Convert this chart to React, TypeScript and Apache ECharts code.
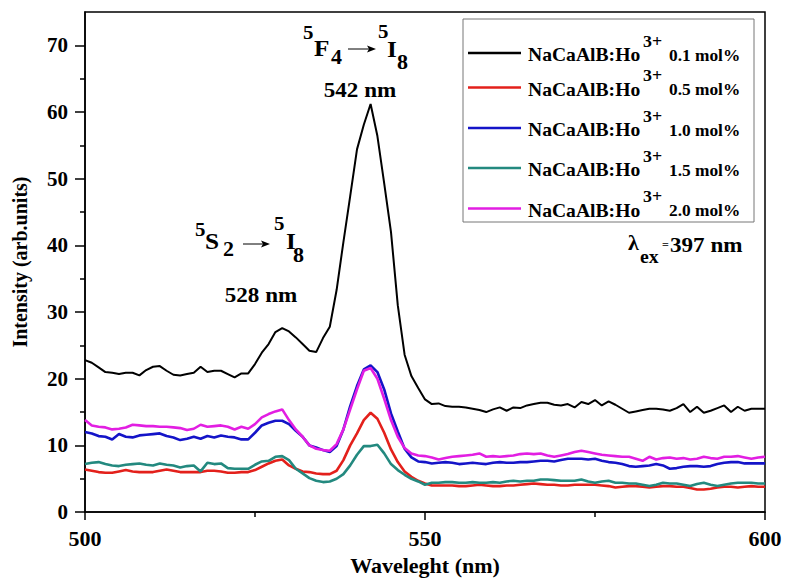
import React, { useEffect, useRef } from "react";
import * as echarts from "echarts";

// ---------- data ----------
const wavelengths: number[] = Array.from({ length: 101 }, (_, i) => 500 + i);

const conc01 = [
  22.8, 22.4, 21.7, 21.0, 20.9, 20.7, 20.9, 20.9, 20.5, 21.3,
  21.8, 21.9, 21.2, 20.6, 20.5, 20.7, 20.9, 21.8, 21.0, 21.2,
  21.2, 20.7, 20.2, 20.8, 20.8, 22.2, 23.9, 25.2, 27.0, 27.6,
  27.1, 26.2, 25.2, 24.2, 24.0, 26.1, 27.8, 33.3, 40.5, 47.4,
  54.4, 58.1, 61.2, 56.4, 49.3, 42.0, 31.0, 23.6, 20.4, 18.6,
  16.9, 16.2, 16.3, 15.9, 15.8, 15.8, 15.7, 15.5, 15.3, 15.0,
  15.4, 15.7, 15.2, 15.7, 15.6, 16.0, 16.2, 16.4, 16.4, 16.1,
  16.0, 16.2, 15.7, 16.5, 16.2, 16.8, 16.0, 16.6, 16.1, 15.5,
  14.9, 15.1, 15.3, 15.5, 15.5, 15.4, 15.2, 15.6, 16.2, 15.0,
  15.8, 14.9, 15.2, 15.6, 16.0, 15.0, 15.8, 15.2, 15.5, 15.5,
  15.5,
];

const conc05 = [
  6.4, 6.2, 6.0, 5.9, 5.9, 6.1, 6.3, 6.1, 6.0, 6.0,
  6.0, 6.2, 6.4, 6.2, 6.0, 6.0, 6.0, 6.0, 6.2, 6.2,
  6.1, 5.9, 5.9, 6.0, 6.0, 6.3, 6.8, 7.3, 7.7, 7.9,
  7.0, 6.5, 6.1, 6.0, 5.8, 5.7, 5.7, 6.2, 7.8, 10.0,
  11.8, 13.8, 14.9, 14.0, 11.9, 9.4, 7.5, 6.1, 5.3, 4.7,
  4.3, 4.0, 4.0, 4.0, 4.0, 3.9, 3.9, 4.0, 4.1, 4.0,
  3.9, 3.9, 4.0, 4.0, 4.1, 4.2, 4.3, 4.2, 4.1, 4.1,
  4.0, 4.0, 4.1, 4.1, 4.1, 4.1, 4.0, 3.9, 3.7, 3.8,
  3.9, 3.9, 3.8, 3.7, 3.8, 3.9, 3.9, 3.8, 3.8, 3.6,
  3.4, 3.4, 3.5, 3.7, 3.8, 3.8, 3.7, 3.8, 3.9, 3.8,
  3.8,
];

const conc10 = [
  12.0, 11.8, 11.4, 11.3, 10.9, 11.7, 11.3, 11.2, 11.5, 11.6,
  11.7, 11.8, 11.4, 11.2, 10.8, 11.0, 11.3, 11.0, 11.4, 11.2,
  11.5, 11.3, 11.2, 10.9, 10.9, 11.9, 13.0, 13.4, 13.7, 13.7,
  13.2, 12.2, 11.3, 10.0, 9.7, 9.3, 9.0, 9.9, 12.4, 15.9,
  18.9, 21.4, 22.0, 21.0, 18.4, 14.8, 12.1, 9.5, 8.2, 7.6,
  7.5, 7.3, 7.4, 7.5, 7.4, 7.2, 7.3, 7.4, 7.3, 7.2,
  7.4, 7.5, 7.4, 7.4, 7.5, 7.5, 7.6, 7.7, 7.7, 7.6,
  7.8, 8.0, 8.0, 8.0, 7.9, 8.0, 7.7, 7.5, 7.4, 7.2,
  6.9, 6.8, 6.9, 7.0, 7.2, 7.0, 6.5, 6.6, 6.8, 6.9,
  6.9, 6.8, 6.9, 7.2, 7.4, 7.5, 7.5, 7.3, 7.3, 7.3,
  7.3,
];

const conc15 = [
  7.2, 7.4, 7.5, 7.2, 7.0, 6.9, 7.1, 7.2, 7.3, 7.1,
  7.0, 7.3, 7.1, 7.0, 6.7, 6.9, 7.0, 6.1, 7.4, 7.2,
  7.3, 6.6, 6.5, 6.5, 6.5, 7.1, 7.6, 7.7, 8.3, 8.4,
  7.8, 6.5, 5.8, 5.1, 4.7, 4.5, 4.6, 5.0, 5.7, 7.0,
  8.6, 9.9, 9.9, 10.1, 8.8, 7.2, 6.3, 5.6, 5.0, 4.6,
  4.1, 4.4, 4.4, 4.5, 4.5, 4.4, 4.4, 4.5, 4.4, 4.4,
  4.5, 4.4, 4.6, 4.7, 4.6, 4.7, 4.7, 4.9, 4.9, 4.8,
  4.7, 4.7, 4.7, 4.9, 4.6, 4.4, 4.6, 4.7, 4.4, 4.4,
  4.3, 4.3, 4.1, 3.9, 4.1, 4.4, 4.3, 4.3, 4.1, 3.9,
  4.2, 4.4, 4.1, 3.9, 4.1, 4.3, 4.4, 4.4, 4.4, 4.3,
  4.3,
];

const conc20 = [
  13.8, 13.0, 12.8, 12.7, 12.4, 12.5, 12.7, 13.1, 13.0, 12.9,
  12.9, 12.8, 12.8, 12.7, 12.6, 12.3, 12.5, 13.1, 12.8, 12.9,
  13.0, 12.8, 12.4, 12.8, 12.5, 13.2, 14.2, 14.7, 15.1, 15.4,
  13.8, 12.4, 11.3, 10.0, 9.5, 9.3, 9.2, 10.2, 12.4, 15.4,
  18.4, 21.2, 21.6, 20.0, 17.0, 13.8, 11.3, 9.6, 8.8, 8.5,
  8.4, 8.2, 7.9, 8.1, 8.3, 8.4, 8.5, 8.6, 8.8, 8.3,
  8.4, 8.3, 8.4, 8.5, 8.7, 8.8, 8.7, 8.8, 8.5, 8.3,
  8.5, 8.7, 9.0, 9.2, 9.0, 8.8, 8.6, 8.5, 8.4, 8.3,
  8.3, 8.0, 7.7, 8.3, 7.9, 8.1, 8.2, 8.0, 8.1, 7.9,
  8.0, 8.3, 8.1, 8.0, 8.3, 8.3, 8.4, 8.2, 8.0, 8.2,
  8.3,
];

const concentrations = ["0.1", "0.5", "1.0", "1.5", "2.0"];
const seriesValues = [conc01, conc05, conc10, conc15, conc20];
const seriesColors = ["#000000", "#e3201b", "#1414c8", "#23897f", "#e21ee2"];
const seriesWidths = [2, 2.6, 2.6, 2.6, 2.6];

const xTicks = [500, 550, 600];
const yTicks = [0, 10, 20, 30, 40, 50, 60, 70];
const yMinorTicks = [5, 15, 25, 35, 45, 55, 65];

// ---------- styling helpers ----------
const FONT = "'Liberation Serif', 'Times New Roman', serif";
const SX = 1.1;

function txt(text: string, x: number, y: number, size: number, align: string = "left", sx: number = SX) {
  return {
    type: "text",
    x,
    y,
    scaleX: sx,
    z: 100,
    style: {
      text,
      x: 0,
      y: 0,
      fontSize: size,
      fontWeight: "bold",
      fontFamily: FONT,
      fill: "#000",
      align,
      verticalAlign: "middle",
    },
  };
}

function arrow(x1: number, x2: number, y: number) {
  return [
    { type: "line", z: 100, shape: { x1, y1: y, x2: x2 - 6, y2: y }, style: { stroke: "#000", lineWidth: 1 } },
    {
      type: "polygon",
      z: 100,
      shape: { points: [[x2 - 9, y - 3.5], [x2, y], [x2 - 9, y + 3.5], [x2 - 7, y]] },
      style: { fill: "#000" },
    },
  ];
}

export default function App() {
  const ref = useRef<HTMLDivElement>(null);

  useEffect(() => {
    document.body.style.margin = "0";
    if (!ref.current) return;
    const chart = echarts.init(ref.current, undefined, { renderer: "svg" });

    const legendRows = [53, 87.5, 128, 168, 208.5];
    const legendGraphics: any[] = [
      {
        type: "rect",
        z: 90,
        shape: { x: 463, y: 19, width: 291, height: 203 },
        style: { fill: "#fff", stroke: "#777", lineWidth: 1 },
      },
    ];
    concentrations.forEach((c, i) => {
      const ry = legendRows[i];
      legendGraphics.push({
        type: "line",
        z: 100,
        shape: { x1: 468, y1: ry, x2: 521, y2: ry },
        style: { stroke: seriesColors[i], lineWidth: 2.6 },
      });
      legendGraphics.push(txt("NaCaAlB:Ho", 528, ry + 2, 18, "left", 1.09));
      legendGraphics.push(txt("3+", 643, ry - 12, 17, "left", 1.05));
      legendGraphics.push(txt(c + " mol%", 669, ry + 2.5, 17, "left", 1.02));
    });

    const annotations: any[] = [
      // 5F4 -> 5I8
      txt("5", 303, 32, 19),
      txt("F", 314, 48, 23),
      txt("4", 331, 57, 20),
      ...arrow(348, 376, 49),
      txt("5", 378, 31, 19),
      txt("I", 387, 49, 23),
      txt("8", 397, 62, 20),
      txt("542 nm", 360, 90, 21, "center"),
      // 5S2 -> 5I8
      txt("5", 195, 229, 19),
      txt("S", 205, 241, 23),
      txt("2", 223, 249, 20),
      ...arrow(243, 270, 244),
      txt("5", 274, 223, 19),
      txt("I", 286, 241, 23),
      txt("8", 293, 255, 20),
      txt("528 nm", 261, 295, 21, "center"),
      // lambda ex
      txt("λ", 628, 243, 20),
      txt("ex", 640, 257, 18),
      txt("=", 662, 245, 11),
      txt("397 nm", 670, 245, 21),
    ];

    const axisLineStyle = { color: "#000", width: 1.5 };
    const labelStyle = { fontSize: 22, fontWeight: "bold" as const, fontFamily: FONT, color: "#000" };

    chart.setOption({
      animation: false,
      backgroundColor: "#fff",
      grid: {
        left: 85,
        right: 20,
        top: 12,
        bottom: 68,
        show: true,
        borderColor: "#000",
        borderWidth: 1.5,
        backgroundColor: "transparent",
      },
      xAxis: {
        type: "value",
        min: 500,
        max: 600,
        interval: 50,
        axisLine: { show: true, lineStyle: axisLineStyle },
        axisTick: { show: true, length: 8, lineStyle: axisLineStyle, customValues: xTicks },
        minorTick: { show: true, splitNumber: 2, length: 5, lineStyle: axisLineStyle },
        axisLabel: { ...labelStyle, margin: 15, customValues: xTicks },
        splitLine: { show: false },
        minorSplitLine: { show: false },
        name: "Waveleght (nm)",
        nameLocation: "middle",
        nameGap: 33,
        nameTextStyle: { fontSize: 22, fontWeight: "bold", fontFamily: FONT, color: "#000" },
      },
      yAxis: [
        {
          type: "value",
          min: 0,
          max: 75,
          interval: 10,
          axisLine: { show: true, lineStyle: axisLineStyle },
          axisTick: { show: true, length: 10, lineStyle: axisLineStyle, customValues: yTicks },
          axisLabel: { ...labelStyle, fontSize: 21, margin: 17, customValues: yTicks },
          splitLine: { show: false },
          name: "Intensity (arb.units)",
          nameLocation: "middle",
          nameGap: 55,
          nameTextStyle: { fontSize: 20, fontWeight: "bold", fontFamily: FONT, color: "#000" },
        },
        {
          type: "value",
          min: 0,
          max: 75,
          interval: 5,
          position: "left",
          axisLine: { show: false },
          axisTick: { show: true, length: 5, lineStyle: axisLineStyle, customValues: yMinorTicks },
          axisLabel: { show: false },
          splitLine: { show: false },
        },
      ],
      series: seriesValues.map((vals, i) => ({
        type: "line",
        name: `NaCaAlB:Ho3+ ${concentrations[i]} mol%`,
        yAxisIndex: 0,
        data: wavelengths.map((w, j) => [w, vals[j]]),
        showSymbol: false,
        symbol: "none",
        lineStyle: { color: seriesColors[i], width: seriesWidths[i] },
        itemStyle: { color: seriesColors[i] },
        z: 2 + i,
      })),
      graphic: [...legendGraphics, ...annotations],
    });

    return () => chart.dispose();
  }, []);

  return <div ref={ref} style={{ width: 785, height: 581 }} />;
}
